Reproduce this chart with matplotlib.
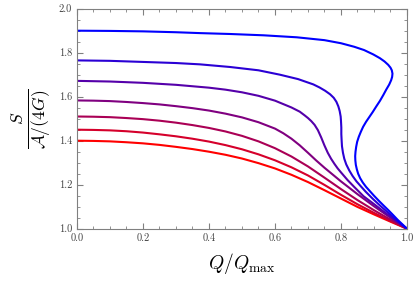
import numpy as np
import matplotlib
matplotlib.use("Agg")
import matplotlib.pyplot as plt

# curves, from red (lowest) to blue (highest)
x_c1 = [0.0, 0.05, 0.1, 0.15, 0.2, 0.25, 0.3, 0.35, 0.4, 0.45, 0.5, 0.55, 0.6, 0.65, 0.7, 0.75,
        0.8, 0.85, 0.9, 0.95, 1.0]
y_c1 = [1.400, 1.399, 1.397, 1.393, 1.388, 1.381, 1.372, 1.362, 1.350, 1.336, 1.319, 1.298,
        1.274, 1.245, 1.212, 1.175, 1.137, 1.099, 1.065, 1.032, 1.0]

x_c2 = [0.0, 0.05, 0.1, 0.15, 0.2, 0.25, 0.3, 0.35, 0.4, 0.45, 0.5, 0.55, 0.6, 0.65, 0.7, 0.75,
        0.8, 0.85, 0.9, 0.95, 1.0]
y_c2 = [1.450, 1.449, 1.447, 1.443, 1.437, 1.429, 1.420, 1.409, 1.396, 1.380, 1.361, 1.338,
        1.311, 1.279, 1.242, 1.199, 1.154, 1.111, 1.072, 1.035, 1.0]

x_c3 = [0.0, 0.05, 0.1, 0.15, 0.2, 0.25, 0.3, 0.35, 0.4, 0.45, 0.5, 0.55, 0.6, 0.65, 0.7, 0.75,
        0.8, 0.85, 0.9, 0.95, 1.0]
y_c3 = [1.510, 1.509, 1.507, 1.503, 1.498, 1.491, 1.482, 1.471, 1.458, 1.442, 1.422, 1.397,
        1.366, 1.328, 1.283, 1.232, 1.180, 1.130, 1.084, 1.041, 1.0]

x_c4 = [0.0, 0.05, 0.1, 0.15, 0.2, 0.25, 0.3, 0.35, 0.4, 0.45, 0.5, 0.55, 0.6, 0.625, 0.65,
        0.675, 0.7, 0.725, 0.75, 0.8, 0.85, 0.9, 0.95, 1.0]
y_c4 = [1.583, 1.582, 1.580, 1.576, 1.571, 1.565, 1.557, 1.548, 1.537, 1.523, 1.506, 1.484,
        1.455, 1.434, 1.409, 1.379, 1.345, 1.310, 1.277, 1.215, 1.157, 1.102, 1.050, 1.0]

x_c5 = [0.0, 0.1, 0.2, 0.3, 0.4, 0.45, 0.5, 0.55, 0.6, 0.65, 0.675, 0.69, 0.70, 0.71, 0.72,
        0.73, 0.74, 0.75, 0.76, 0.77, 0.78, 0.79, 0.8, 0.82, 0.84, 0.868, 0.9, 0.925, 0.95,
        0.975, 1.0]
y_c5 = [1.672, 1.669, 1.663, 1.654, 1.641, 1.632, 1.620, 1.604, 1.582, 1.551, 1.532, 1.515,
        1.503, 1.489, 1.472, 1.448, 1.415, 1.378, 1.345, 1.318, 1.295, 1.274, 1.256, 1.221,
        1.190, 1.148, 1.112, 1.083, 1.055, 1.028, 1.0]

x_c6 = [0.0, 0.1, 0.2, 0.3, 0.373, 0.464, 0.55, 0.615, 0.67, 0.716, 0.735, 0.752, 0.767, 0.778,
        0.786, 0.792, 0.796, 0.799, 0.80, 0.801, 0.801, 0.802, 0.803, 0.806, 0.81, 0.816, 0.825,
        0.835, 0.847, 0.86, 0.875, 0.897, 0.92, 0.945, 0.97, 1.0]
y_c6 = [1.765, 1.763, 1.758, 1.753, 1.747, 1.735, 1.72, 1.70, 1.68, 1.656, 1.642, 1.627, 1.611,
        1.595, 1.577, 1.556, 1.535, 1.51, 1.49, 1.46, 1.43, 1.40, 1.375, 1.345, 1.318, 1.292,
        1.265, 1.24, 1.215, 1.193, 1.168, 1.135, 1.103, 1.07, 1.036, 1.0]

x_c7 = [0.0, 0.1, 0.2, 0.3, 0.373, 0.464, 0.566, 0.666, 0.75, 0.8, 0.84, 0.87, 0.898, 0.918,
        0.932, 0.943, 0.95, 0.954, 0.956, 0.955, 0.952, 0.946, 0.937, 0.928, 0.918, 0.907, 0.896,
        0.886, 0.876, 0.867, 0.86, 0.854, 0.849, 0.846, 0.844, 0.843, 0.8435, 0.845, 0.848,
        0.852, 0.858, 0.866, 0.876, 0.888, 0.9, 0.914, 0.928, 0.943, 0.958, 0.972, 0.986, 1.0]
y_c7 = [1.90, 1.899, 1.897, 1.893, 1.889, 1.885, 1.879, 1.87, 1.857, 1.843, 1.827, 1.812, 1.792,
        1.775, 1.76, 1.745, 1.732, 1.72, 1.705, 1.69, 1.675, 1.655, 1.632, 1.607, 1.581, 1.556,
        1.53, 1.508, 1.486, 1.463, 1.44, 1.418, 1.395, 1.372, 1.35, 1.33, 1.31, 1.29, 1.27,
        1.25, 1.23, 1.21, 1.19, 1.17, 1.15, 1.128, 1.107, 1.085, 1.062, 1.04, 1.02, 1.0]

curves = [(x_c1, y_c1), (x_c2, y_c2), (x_c3, y_c3), (x_c4, y_c4),
          (x_c5, y_c5), (x_c6, y_c6), (x_c7, y_c7)]

plt.rcParams['font.family'] = 'serif'
plt.rcParams['font.serif'] = ['cmr10', 'DejaVu Serif']
plt.rcParams['mathtext.fontset'] = 'cm'
plt.rcParams['axes.formatter.use_mathtext'] = True

fig = plt.figure(figsize=(4.15, 2.85), dpi=100)
ax = fig.add_axes([0.1855, 0.1975, 0.7952, 0.772])

n = len(curves)
for i, (xs, ys) in enumerate(curves):
    t = i / (n - 1)
    ax.plot(xs, ys, color=(1 - t, 0, t), lw=1.5, solid_joinstyle='round')

ax.set_xlim(0, 1)
ax.set_ylim(1.0, 2.0)
ax.set_xticks(np.arange(0, 1.01, 0.2))
ax.set_yticks(np.arange(1.0, 2.01, 0.2))
ax.set_xticks(np.arange(0, 1.001, 0.05), minor=True)
ax.set_yticks(np.arange(1.0, 2.001, 0.05), minor=True)
ax.xaxis.set_major_formatter(matplotlib.ticker.FormatStrFormatter('%.1f'))
ax.yaxis.set_major_formatter(matplotlib.ticker.FormatStrFormatter('%.1f'))

for s in ax.spines.values():
    s.set_color('#808080')
ax.tick_params(which='both', direction='in', top=True, right=True, color='#808080',
               labelcolor='#444444', labelsize=7.5)
ax.tick_params(which='major', length=4)
ax.tick_params(which='minor', length=2)

ax.set_xlabel(r'$Q/Q_{\rm max}$', fontsize=14, labelpad=6)
ax.set_ylabel(r'$\frac{S}{\mathcal{A}/(4G)}$', fontsize=18, labelpad=4)

fig.savefig('out.png', dpi=100)
